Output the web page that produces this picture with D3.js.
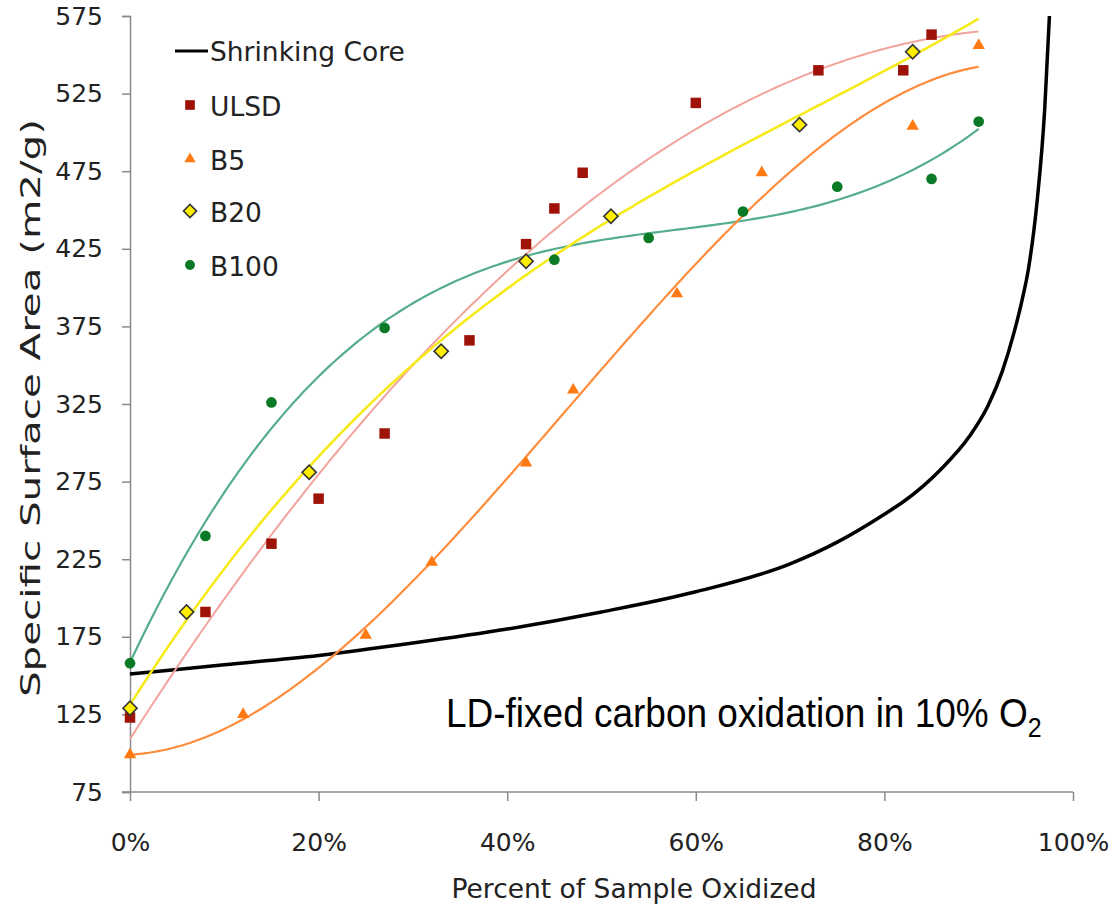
<!DOCTYPE html>
<html>
<head>
<meta charset="utf-8">
<script src="https://d3js.org/d3.v7.min.js"></script>
<style>
  body { margin: 0; background: #fff; }
  text { font-family: "DejaVu Sans", Verdana, sans-serif; fill: #222; }
</style>
</head>
<body>
<svg width="1115" height="910"></svg>
<script>
// axis ticks
const xTicks = [0, 20, 40, 60, 80, 100];
const yTicks = [75, 125, 175, 225, 275, 325, 375, 425, 475, 525, 575];

// measured points (percent oxidized, m2/g)
const ulsdX = [0, 8, 15, 20, 27, 36, 42, 45, 48, 60, 73, 82, 85];
const ulsdY = [123, 191, 235, 264, 306, 366, 428, 451, 474, 519, 540, 540, 563];
const b5X = [0, 12, 25, 32, 42, 47, 58, 67, 83, 90];
const b5Y = [99, 125, 176, 223, 287, 334, 396, 474, 504, 556];
const b20X = [0, 6, 19, 33, 42, 51, 71, 83];
const b20Y = [129, 191, 281, 359, 417, 446, 505, 552];
const b100X = [0, 8, 15, 27, 45, 55, 65, 75, 85, 90];
const b100Y = [158, 240, 326, 374, 418, 432, 449, 465, 470, 507];

// shrinking core model curve
const coreX = [0, 10, 20, 30, 40, 50, 60, 70, 75, 80, 82, 86, 89, 91, 92.5, 93.7, 94.6, 95.3, 96.2, 97, 97.5];
const coreY = [151, 157, 163, 171, 180, 191, 204, 222, 236, 254, 262, 283, 304, 324, 346, 370, 392, 413, 456, 515, 575];

// trendline order per series and the x span they cover
const trendOrder = {ULSD: 2, B5: 3, B20: 3, B100: 3};
const trendRange = [0, 90];

var margin = {left: 130, right: 42, top: 16, bottom: 118};
var width = 1115 - margin.left - margin.right;
var height = 910 - margin.top - margin.bottom;

var xScale = d3.scaleLinear().domain([0, 100]).range([0, width]);
var yScale = d3.scaleLinear().domain([75, 575]).range([height, 0]);

var svg = d3.select('svg');
var g = svg.append('g').attr('transform', 'translate(' + margin.left + ',' + margin.top + ')');

// least squares polynomial (what the spreadsheet trendline does)
function polyfit(xs, ys, deg) {
  var n = deg + 1;
  var A = [], b = [];
  for (var i = 0; i < n; i++) {
    A.push([]);
    for (var j = 0; j < n; j++) A[i].push(d3.sum(xs, x => Math.pow(x / 100, i + j)));
    b.push(d3.sum(xs, (x, k) => ys[k] * Math.pow(x / 100, i)));
  }
  for (var c = 0; c < n; c++) {
    var p = c;
    for (var r = c + 1; r < n; r++) if (Math.abs(A[r][c]) > Math.abs(A[p][c])) p = r;
    [A[c], A[p]] = [A[p], A[c]]; [b[c], b[p]] = [b[p], b[c]];
    for (var r = c + 1; r < n; r++) {
      var f = A[r][c] / A[c][c];
      for (var k = c; k < n; k++) A[r][k] -= f * A[c][k];
      b[r] -= f * b[c];
    }
  }
  var coef = new Array(n).fill(0);
  for (var r = n - 1; r >= 0; r--) {
    var s = b[r];
    for (var k = r + 1; k < n; k++) s -= A[r][k] * coef[k];
    coef[r] = s / A[r][r];
  }
  return x => d3.sum(coef, (c, i) => c * Math.pow(x / 100, i));
}

var series = [
  {name: 'ULSD',  xs: ulsdX, ys: ulsdY, fill: '#9e1208', stroke: 'none', line: '#f2a49c', lw: 2,   shape: 'square'},
  {name: 'B5',    xs: b5X,   ys: b5Y,   fill: '#ff7a12', stroke: 'none', line: '#ff8c3c', lw: 2.2, shape: 'triangle'},
  {name: 'B20',   xs: b20X,  ys: b20Y,  fill: '#ffee00', stroke: '#333', line: '#f7ea1a', lw: 2.6, shape: 'diamond'},
  {name: 'B100',  xs: b100X, ys: b100Y, fill: '#0b7a26', stroke: 'none', line: '#55ad8b', lw: 2.2, shape: 'circle'}
];

function symbolPath(shape, scale) {
  scale = scale || 1;
  if (shape == 'square') return d3.symbol(d3.symbolSquare, 110 * scale)();
  if (shape == 'triangle') return d3.symbol(d3.symbolTriangle, 66 * scale)();
  if (shape == 'diamond') return d3.symbol(d3.symbolSquare, 100 * scale)();
  return d3.symbol(d3.symbolCircle, 90 * scale)();
}

// axes
var yAxis = g.append('g')
  .call(d3.axisLeft(yScale).tickValues(yTicks).tickSize(8).tickPadding(10));
var xAxis = g.append('g')
  .attr('transform', 'translate(0,' + height + ')')
  .call(d3.axisBottom(xScale).tickValues(xTicks).tickSize(9).tickPadding(32).tickFormat(d => d + '%'));
[yAxis, xAxis].forEach(a => {
  a.select('.domain').attr('stroke', '#8a8a8a').attr('stroke-width', 1.5);
  a.selectAll('.tick line').attr('stroke', '#8a8a8a').attr('stroke-width', 1.5);
  a.selectAll('.tick text').style('font-size', '25px').style('fill', '#222')
    .style('font-family', '"DejaVu Sans", Verdana, sans-serif');
});
yAxis.selectAll('.tick text').attr('x', -27);
// x axis line continues a little left of the y axis
xAxis.select('.domain').attr('d', 'M-8,0H' + width);

// shrinking core
g.append('path')
  .datum(coreX.map((x, i) => [x, coreY[i]]))
  .attr('fill', 'none')
  .attr('stroke', '#000')
  .attr('stroke-width', 3.5)
  .attr('d', d3.line().x(d => xScale(d[0])).y(d => yScale(d[1])).curve(d3.curveMonotoneX));

// trendlines
[series[3], series[1], series[0], series[2]].forEach(s => {
  var f = polyfit(s.xs, s.ys, trendOrder[s.name]);
  var pts = d3.range(trendRange[0], trendRange[1] + 0.01, 0.5).map(x => [x, f(x)]);
  g.append('path')
    .datum(pts)
    .attr('fill', 'none')
    .attr('stroke', s.line)
    .attr('stroke-width', s.lw)
    .attr('d', d3.line().x(d => xScale(d[0])).y(d => yScale(d[1])));
});

// markers
series.forEach(s => {
  g.append('g')
    .selectAll('path')
    .data(s.xs.map((x, i) => [x, s.ys[i]]))
    .enter()
    .append('path')
    .attr('d', symbolPath(s.shape))
    .attr('transform', d => 'translate(' + xScale(d[0]) + ',' + yScale(d[1]) + ')' + (s.shape == 'diamond' ? ' rotate(45)' : ''))
    .attr('fill', s.fill)
    .attr('stroke', s.stroke)
    .attr('stroke-width', 1.6);
});

// legend
var legendY = [51, 105, 159, 211, 265];
var leg = svg.append('g');
leg.append('line')
  .attr('x1', 175).attr('x2', 208)
  .attr('y1', legendY[0]).attr('y2', legendY[0])
  .attr('stroke', '#000').attr('stroke-width', 3);
leg.append('text').text('Shrinking Core')
  .attr('x', 210).attr('y', legendY[0] + 10)
  .style('font-size', '26.5px');
series.forEach((s, i) => {
  leg.append('path')
    .attr('d', symbolPath(s.shape, 0.85))
    .attr('transform', 'translate(190,' + legendY[i + 1] + ')' + (s.shape == 'diamond' ? ' rotate(45)' : ''))
    .attr('fill', s.fill)
    .attr('stroke', s.stroke)
    .attr('stroke-width', 1.6);
  leg.append('text').text(s.name)
    .attr('x', 210).attr('y', legendY[i + 1] + 11)
    .style('font-size', '26.5px');
});

// axis titles
svg.append('text')
  .text('Percent of Sample Oxidized')
  .attr('x', 634).attr('y', 898)
  .attr('text-anchor', 'middle')
  .style('font-size', '26.5px');

var yl_x = 40, yl_y = 408;
svg.append('text')
  .text('Specific Surface Area (m2/g)')
  .attr('x', yl_x).attr('y', yl_y)
  .attr('text-anchor', 'middle')
  .attr('textLength', 578)
  .attr('lengthAdjust', 'spacingAndGlyphs')
  .attr('transform', 'rotate(-90 ' + yl_x + ' ' + yl_y + ')')
  .style('font-size', '26px');

// annotation
var note = svg.append('g')
  .attr('transform', 'translate(446,727) scale(1,1.1)')
  .append('text')
  .style('font-family', '"Liberation Sans", Arial, sans-serif')
  .style('font-size', '37px')
  .style('fill', '#000');
note.append('tspan').text('LD-fixed carbon oxidation in 10% O');
note.append('tspan').text('2').attr('dy', 9).style('font-size', '25px');
</script>
</body>
</html>
